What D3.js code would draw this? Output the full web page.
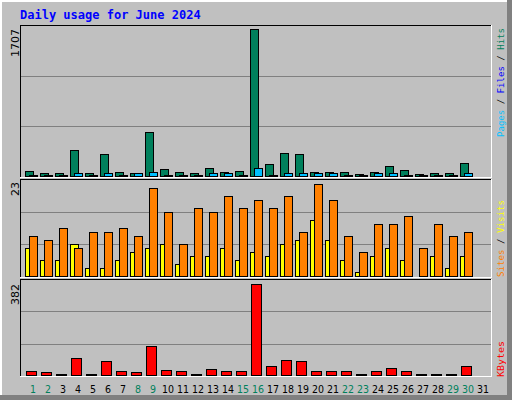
<!DOCTYPE html><html><head><meta charset="utf-8"><script src="https://cdn.jsdelivr.net/npm/d3@7"></script>
<style>body{margin:0;background:#fff}</style></head><body><svg width="512" height="400"></svg>
<script>
const days=d3.range(1,32);
const weekend=[1,2,8,9,15,16,22,23,29,30];
const hits=[60,30,30,300,30,260,50,30,510,85,50,30,95,50,60,1707,145,270,260,50,50,50,20,50,120,65,20,30,30,155,0];
const files=[10,10,10,35,10,35,10,35,45,10,10,10,35,35,10,90,10,30,30,30,30,10,10,30,30,10,10,10,10,30,0];
const pages=[10,10,10,35,10,35,10,35,45,10,10,10,35,35,10,90,10,30,30,30,30,10,10,30,30,10,10,10,10,30,0];
const visits=[7,4,4,8,2,2,4,6,7,8,3,5,5,7,4,6,5,8,9,14,9,4,1,5,7,4,0,5,2,5,0];
const sites=[10,9,12,7,11,11,12,10,22,16,8,17,16,20,17,19,17,20,11,23,19,10,6,13,13,15,7,13,10,11,0];
const kbytes=[15,11,5,72,5,60,15,11,120,20,15,5,24,15,15,382,36,64,60,15,15,15,5,15,28,15,5,5,5,36,0];
const maxLabels=["1707","23","382"];

const svg=d3.select("svg");
svg.append("rect").attr("x",0).attr("y",0).attr("width",512).attr("height",400).attr("fill","#808080");
svg.append("rect").attr("x",0).attr("y",0).attr("width",507).attr("height",395).attr("fill","#fff");
svg.append("rect").attr("x",2).attr("y",2).attr("width",505).attr("height",393).attr("fill","#c0c0c0");
svg.append("text").attr("x",20).attr("y",19).text("Daily usage for June 2024")
 .attr("font-family","DejaVu Sans Mono").attr("font-weight","bold").attr("font-size",12).attr("fill","#0000ff");

const x=d3.scaleBand().domain(days).range([25,490]);
const panels=[{t:25,b:177},{t:179,b:277},{t:279,b:376}];
panels.forEach(p=>{
  svg.append("line").attr("x1",20).attr("x2",491).attr("y1",p.t+0.5).attr("y2",p.t+0.5).attr("stroke","#000");
  svg.append("line").attr("x1",20.5).attr("x2",20.5).attr("y1",p.t).attr("y2",p.b).attr("stroke","#000");
  svg.append("line").attr("x1",20).attr("x2",492).attr("y1",p.b+0.5).attr("y2",p.b+0.5).attr("stroke","#fff");
  svg.append("line").attr("x1",491.5).attr("x2",491.5).attr("y1",p.t).attr("y2",p.b+1).attr("stroke","#fff");
  const h=p.b-p.t;
  [1,2].forEach(i=>svg.append("line").attr("x1",21).attr("x2",491).attr("y1",Math.round(p.b-h*i/3)+0.5).attr("y2",Math.round(p.b-h*i/3)+0.5).attr("stroke","#808080"));
});
const y1=d3.scaleLinear().domain([0,1707]).range([176,29]);
const y2=d3.scaleLinear().domain([0,23]).range([276,184]);
const y3=d3.scaleLinear().domain([0,382]).range([375,284]);
function bars(data,y,off,w,color){
  svg.append("g").selectAll("rect").data(data).join("rect")
   .attr("x",(d,i)=>x(days[i])+off+0.5).attr("width",w)
   .attr("y",d=>Math.round(y(d))+0.5).attr("height",d=>Math.max(0,y(0)-Math.round(y(d))))
   .attr("fill",color).attr("stroke","#000").attr("display",d=>d>0?null:"none");
}
bars(hits,y1,0,8,"#00805c");
bars(files,y1,4,8,"#0000ff");
bars(pages,y1,4,8,"#00c0ff");
bars(visits,y2,0,8,"#ffff00");
bars(sites,y2,4,8,"#ff8000");
bars(kbytes,y3,1,10,"#ff0000");

const yl=[29,182,284];
maxLabels.forEach((t,i)=>svg.append("text").attr("transform",`translate(19,${yl[i]}) rotate(-90)`)
  .attr("text-anchor","end").attr("font-family","DejaVu Sans").attr("font-size",11).text(t));

svg.append("g").selectAll("text").data(days).join("text")
 .attr("x",d=>x(d)+8).attr("y",393).attr("text-anchor","middle")
 .attr("font-family","DejaVu Sans Condensed, DejaVu Sans").attr("font-stretch","condensed").attr("font-size",10.5)
 .attr("fill",d=>weekend.includes(d)?"#00805c":"#000").text(d=>d);

function legend(y,len,parts){
  const t=svg.append("text").attr("transform",`translate(504,${y}) rotate(-90)`)
   .attr("font-family","DejaVu Sans Mono").attr("font-size",9)
   .attr("textLength",len).attr("lengthAdjust","spacingAndGlyphs");
  parts.forEach(([s,c])=>t.append("tspan").attr("fill",c).text(s));
}
legend(137,109,[["Pages","#00c0ff"],[" / ","#000"],["Files","#0000ff"],[" / ","#000"],["Hits","#00805c"]]);
legend(277,77,[["Sites","#ff8000"],[" / ","#000"],["Visits","#ffff00"]]);
legend(377,36,[["KBytes","#ff0000"]]);
</script></body></html>
